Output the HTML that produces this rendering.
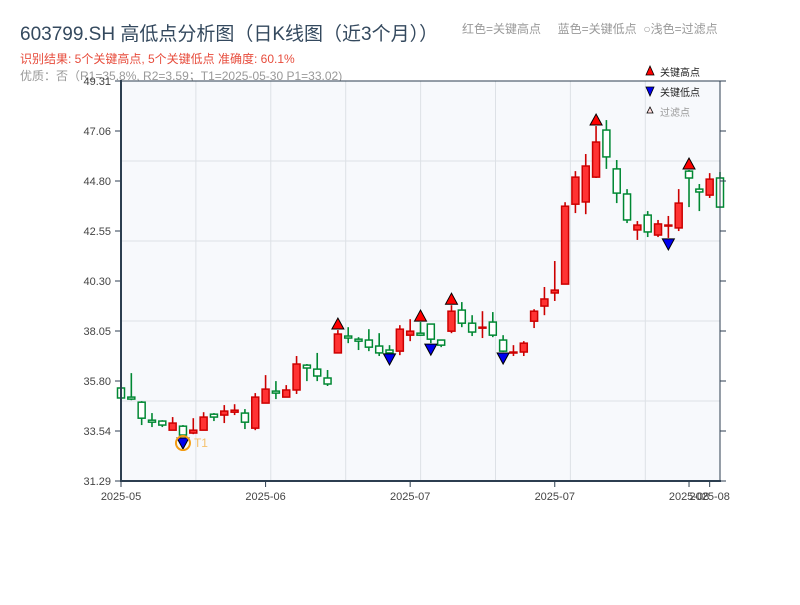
<!DOCTYPE html>
<html><head><meta charset="utf-8">
<style>
body{margin:0;background:#fff;font-family:"Liberation Sans","Noto Sans CJK SC",sans-serif;}
svg text{font-family:"Liberation Sans","Noto Sans CJK SC",sans-serif;}
</style></head>
<body>
<svg id="chart" width="800" height="600" xmlns="http://www.w3.org/2000/svg">
<text x="20" y="40" font-size="19" fill="#34495e">603799.SH 高低点分析图（日K线图（近3个月））</text>
<text x="462" y="33" font-size="12" fill="#999">红色=关键高点 &#160;&#160;&#160;&#160;蓝色=关键低点 &#160;○浅色=过滤点</text>
<text x="20" y="63" font-size="12" fill="#e74c3c">识别结果: 5个关键高点, 5个关键低点  准确度: 60.1%</text>
<text x="20" y="80" font-size="12" fill="#999">优质：否（R1=35.8%, R2=3.59；T1=2025-05-30 P1=33.02)</text>
<rect x="121" y="81" width="599" height="400" fill="#f7f9fc"/>
<g id="grid"></g>
<g id="candles"></g>
<g id="markers"></g>
<line x1="121" y1="81" x2="720" y2="81" stroke="#2c3e50" stroke-width="1"/>
<line x1="720" y1="81" x2="720" y2="481" stroke="#2c3e50" stroke-width="1"/>
<line x1="121" y1="80" x2="121" y2="482" stroke="#2c3e50" stroke-width="2"/>
<line x1="120" y1="481" x2="721" y2="481" stroke="#2c3e50" stroke-width="2"/>
<g id="axes"></g>
<g>
<polygon points="650,66 646,75 654,75" fill="#ff0000" stroke="#000" stroke-width="0.8"/>
<text x="660" y="76" font-size="10" fill="#222">关键高点</text>
<polygon points="646,87 654,87 650,96" fill="#0000ee" stroke="#000" stroke-width="0.8"/>
<text x="660" y="96" font-size="10" fill="#222">关键低点</text>
<polygon points="650,107 647,113 653,113" fill="#fdd" stroke="#000" stroke-width="0.8"/>
<text x="660" y="116" font-size="10" fill="#999">过滤点</text>
</g>
</svg>
<script>
const opens=[35.48,35.07,34.84,34.03,33.99,33.58,33.76,33.45,33.58,34.30,34.26,34.39,34.35,33.67,34.80,35.34,35.07,35.39,36.51,36.33,35.93,37.06,37.82,37.68,37.64,37.37,37.19,37.14,37.86,37.95,38.36,37.64,38.04,38.99,38.40,38.18,38.45,37.64,37.06,37.10,38.49,39.17,39.76,40.16,43.76,43.86,44.98,47.10,45.35,44.22,42.60,43.27,42.37,42.78,42.69,45.25,44.44,44.17,44.94];
const highs=[35.52,36.15,34.89,34.35,34.03,34.17,33.81,34.12,34.39,34.35,34.71,34.75,34.53,35.25,36.06,35.79,35.61,36.92,36.56,37.06,36.29,38.09,38.22,37.77,38.13,37.95,37.41,38.31,38.58,38.45,38.36,37.64,39.21,39.35,38.76,38.94,38.90,37.86,37.41,37.59,39.03,40.03,41.20,43.85,45.25,46.02,47.28,47.55,45.75,44.44,43.00,43.45,43.05,43.23,44.44,45.30,44.67,45.16,45.21];
const lows=[34.98,34.93,33.81,33.72,33.72,33.58,33.27,33.40,33.58,33.99,33.90,34.26,33.63,33.58,34.80,34.98,35.07,35.21,35.79,35.79,35.57,37.06,37.50,37.19,37.14,36.92,37.06,36.96,37.59,37.82,37.50,37.32,37.95,38.22,37.82,37.73,37.77,37.10,36.92,36.92,38.18,38.76,39.40,40.16,43.36,43.31,44.94,45.35,43.81,42.91,42.15,42.28,42.28,42.24,42.55,43.63,43.45,44.04,43.63];
const closes=[35.03,34.98,34.12,33.94,33.81,33.90,33.36,33.58,34.17,34.17,34.44,34.48,33.94,35.07,35.43,35.25,35.39,36.56,36.38,36.02,35.66,37.91,37.73,37.59,37.32,37.06,37.06,38.13,38.04,37.86,37.68,37.41,38.94,38.40,38.00,38.22,37.86,37.14,37.10,37.50,38.94,39.49,39.89,43.67,44.98,45.48,46.56,45.89,44.26,43.05,42.82,42.51,42.87,42.82,43.81,44.94,44.31,44.89,43.63];
const keyHighIdx=[21,29,32,46,55];
const keyLowIdx=[6,26,30,37,53];
const yTickLabels=["49.31","47.06","44.80","42.55","40.30","38.05","35.80","33.54","31.29"];
const xTickIdx=[0,14,28,42,55,57];
const xTickLabels=["2025-05","2025-06","2025-07","2025-07","2025-08","2025-08"];
const yMax=49.31,yMin=31.29;
const NS="http://www.w3.org/2000/svg";
function X(i){return 121+i*(599/(opens.length-1));}
function Y(p){return 81+(yMax-p)*400/(yMax-yMin);}
function mk(tag,attrs,parent){const e=document.createElementNS(NS,tag);for(const k in attrs)e.setAttribute(k,attrs[k]);parent.appendChild(e);return e;}
const grid=document.getElementById('grid'),cg=document.getElementById('candles'),mg=document.getElementById('markers'),ax=document.getElementById('axes');
for(let k=1;k<=7;k++){const l=mk('line',{x1:121+k*74.9,x2:121+k*74.9,y1:81,y2:481,stroke:'#dde1e6','stroke-width':1},grid);

}
for(let k=1;k<=4;k++){const l=mk('line',{x1:121,x2:720,y1:81+k*80,y2:81+k*80,stroke:'#dde1e6','stroke-width':1},grid);

}
for(let i=0;i<opens.length;i++){
 const x=X(i),up=closes[i]>=opens[i];
 const col=up?'#cc0000':'#008833';
 const g=mk('g',{},cg);
 
 
 mk('line',{x1:x,x2:x,y1:Y(highs[i]),y2:Y(lows[i]),stroke:col,'stroke-width':1.6},g);
 const t=Y(Math.max(opens[i],closes[i])),b=Y(Math.min(opens[i],closes[i]));
 mk('rect',{x:x-3.5,y:t,width:7,height:Math.max(b-t,1),fill:up?'#ff3333':'#ffffff',stroke:col,'stroke-width':1.5},g);
}
keyHighIdx.forEach(i=>{const x=X(i),y=Y(highs[i]);
 const p=mk('polygon',{points:`${x},${y-12} ${x-6},${y-1} ${x+6},${y-1}`,fill:'#ff0000',stroke:'#000','stroke-width':1},mg);
 
 });
keyLowIdx.forEach(i=>{const x=X(i),y=Y(lows[i]);
 const p=mk('polygon',{points:`${x-6},${y+1} ${x+6},${y+1} ${x},${y+12}`,fill:'#0000ee',stroke:'#000','stroke-width':1},mg);
 
 });
{const i=keyLowIdx[0],x=X(i),y=Y(lows[i])+6;
 const c=mk('circle',{cx:x,cy:y,r:7,fill:'none',stroke:'#f39c12','stroke-width':2},mg);
 
 
 const t=mk('text',{x:x+11,y:y+4,'font-size':12,fill:'#f5c16c'},mg);t.textContent='T1';
 
 }
yTickLabels.forEach((s,k)=>{const y=81+k*50;
 mk('line',{x1:115,x2:121,y1:y,y2:y,stroke:'#2c3e50','stroke-width':1},ax);
 mk('line',{x1:720,x2:726,y1:y,y2:y,stroke:'#2c3e50','stroke-width':1},ax);
 const t=mk('text',{x:111,y:y+4,'font-size':11,fill:'#444','text-anchor':'end'},ax);t.textContent=s;
 
 });
xTickIdx.forEach((i,k)=>{const x=X(i);
 mk('line',{x1:x,x2:x,y1:481,y2:487,stroke:'#2c3e50','stroke-width':1},ax);
 const t=mk('text',{x:x,y:500,'font-size':11,fill:'#444','text-anchor':'middle'},ax);t.textContent=xTickLabels[k];
 
 });
</script>
</body></html>
